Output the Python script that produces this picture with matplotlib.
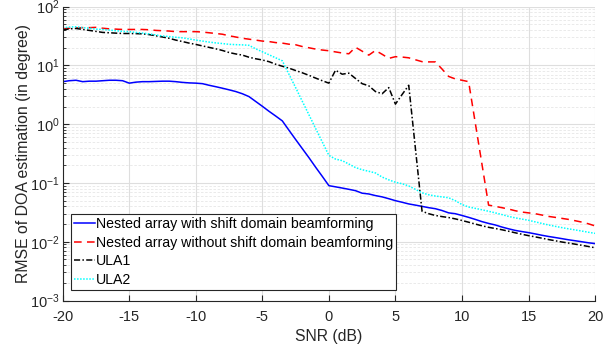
import numpy as np
import matplotlib.pyplot as plt
from matplotlib.ticker import LogLocator, NullFormatter, MultipleLocator

plt.rcParams['font.family'] = ['Liberation Sans', 'DejaVu Sans']
plt.rcParams['axes.unicode_minus'] = False

# SNR grid (dB)
snr = np.arange(-20, 20.5, 0.5)

# RMSE values (degree)
rmse_shift = [5.3, 5.5, 5.6, 5.3, 5.4, 5.4, 5.5, 5.6, 5.6, 5.5,
              5.0, 5.2, 5.3, 5.3, 5.35, 5.4, 5.4, 5.3, 5.15, 5.05,
              5.0, 4.9, 4.6, 4.35, 4.1, 3.85, 3.6, 3.3, 2.95, 2.44,
              2.02, 1.66, 1.38, 1.14, 0.79, 0.55, 0.385, 0.27, 0.186, 0.13,
              0.090, 0.086, 0.082, 0.078, 0.074, 0.067, 0.065, 0.061, 0.058, 0.054,
              0.050, 0.047, 0.044, 0.042, 0.040, 0.038, 0.0365, 0.034, 0.031, 0.030,
              0.028, 0.026, 0.024, 0.022, 0.0205, 0.0193, 0.0178, 0.0166, 0.0156, 0.0149,
              0.0143, 0.0136, 0.0129, 0.0123, 0.0118, 0.0113, 0.0108, 0.0104, 0.0100, 0.0096,
              0.0093]

rmse_noshift = [42, 43, 43.5, 44, 44, 44.5, 43, 42, 41.5, 41,
                41, 41, 41, 40.5, 39.5, 39, 38.5, 37.6, 37.6, 37.6,
                37.6, 37, 36, 35, 34, 32, 30.5, 29, 28, 27,
                26, 25.5, 24.5, 24, 23, 22.5, 21, 20, 19, 18.3,
                17.8, 17, 16.3, 15.8, 20.4, 17.5, 15.0, 18.0, 15.5, 13.2,
                14.1, 13.9, 13.5, 12.5, 11.6, 11.5, 11.5, 8.7, 6.5, 5.9,
                5.6, 5.3, 1.05, 0.21, 0.042, 0.040, 0.038, 0.036, 0.0337, 0.032,
                0.031, 0.030, 0.0285, 0.027, 0.026, 0.025, 0.024, 0.0228, 0.0216, 0.0202,
                0.0186]

rmse_ula1 = [40, 42, 42.6, 41, 39.5, 38, 36.5, 36, 35.5, 35,
             35, 34.8, 34.5, 33.5, 32, 30.5, 29, 27, 25.5, 24,
             22.8, 21.5, 20.3, 19.2, 18, 16.6, 15.7, 15, 13.8, 13,
             12.4, 11.6, 10.5, 9.7, 9.0, 8.2, 7.5, 6.8, 6.1, 5.5,
             5.0, 8.3, 7.1, 7.4, 6.0, 4.9, 4.5, 3.6, 3.3, 4.2,
             2.2, 3.2, 4.6, 0.39, 0.033, 0.030, 0.028, 0.0268, 0.0258, 0.0245,
             0.023, 0.0215, 0.020, 0.0187, 0.0176, 0.0168, 0.016, 0.0151, 0.0142, 0.0134,
             0.0127, 0.0121, 0.0115, 0.0109, 0.0104, 0.0099, 0.0095, 0.0091, 0.0087, 0.0083,
             0.0079]

rmse_ula2 = [43.8, 45, 45.6, 44, 43, 41.5, 41, 40, 39, 38,
             37.6, 36.5, 35.5, 34.5, 33, 31.7, 31, 30.2, 29.5, 28.3,
             27, 26, 25, 24.2, 23.6, 22.9, 22.6, 22.4, 22.0, 19.2,
             17.1, 15.2, 13.5, 12, 7.1, 4.2, 2.46, 1.45, 0.85, 0.50,
             0.295, 0.255, 0.24, 0.21, 0.183, 0.168, 0.158, 0.148, 0.126, 0.113,
             0.103, 0.097, 0.089, 0.078, 0.068, 0.063, 0.060, 0.058, 0.056, 0.050,
             0.043, 0.039, 0.037, 0.035, 0.033, 0.031, 0.029, 0.027, 0.0255, 0.0243,
             0.0232, 0.0218, 0.0205, 0.0193, 0.0183, 0.0174, 0.0166, 0.0159, 0.0152, 0.0145,
             0.0139]

labels = ['Nested array with shift domain beamforming',
          'Nested array without shift domain beamforming',
          'ULA1', 'ULA2']

fig = plt.figure(figsize=(6.16, 3.47), dpi=100)
ax = fig.add_axes([0.1018, 0.134, 0.8642, 0.8467])

ax.semilogy(snr, rmse_shift, '-', color='#0000ff', lw=1.1, label=labels[0])
ax.semilogy(snr, rmse_noshift, '--', color='#ff0000', lw=1.1, dashes=(5, 3.5), label=labels[1])
ax.semilogy(snr, rmse_ula1, '-.', color='k', lw=1.1, dashes=(4, 1.5, 1, 1.5), label=labels[2])
ax.semilogy(snr, rmse_ula2, ':', color='#00ffff', lw=1.1, dashes=(1, 1), label=labels[3])

ax.set_xlim(-20, 20)
ax.set_ylim(1e-3, 1e2)
ax.xaxis.set_major_locator(MultipleLocator(5))
ax.yaxis.set_major_locator(LogLocator(base=10, numticks=10))
ax.yaxis.set_minor_locator(LogLocator(base=10, subs=np.arange(2, 10), numticks=10))
ax.yaxis.set_minor_formatter(NullFormatter())

ax.grid(True, which='major', color='#dedede', lw=0.8)
ax.grid(True, which='minor', axis='y', color='#e6e6e6', lw=0.6, ls=(0, (3, 2)))
ax.set_axisbelow(True)

for s in ['top', 'right']:
    ax.spines[s].set_visible(False)
for s in ['left', 'bottom']:
    ax.spines[s].set_color('#262626')
    ax.spines[s].set_linewidth(0.8)

ax.tick_params(which='both', direction='in', colors='#262626', labelsize=10.5)
ax.tick_params(which='major', length=4)
ax.tick_params(which='minor', length=2)
ax.tick_params(axis='x', pad=6.5)
ax.tick_params(axis='y', pad=2.5)

ax.set_xlabel('SNR (dB)', fontsize=11.3, color='#262626', labelpad=4)
ax.set_ylabel('RMSE of DOA estimation (in degree)', fontsize=11.4, color='#262626', labelpad=-1)

leg = ax.legend(loc='lower left', bbox_to_anchor=(0.0156, 0.036), fontsize=10.2,
                handlelength=1.5, handletextpad=0.05, labelspacing=0.33,
                borderpad=0.2, borderaxespad=0, fancybox=False, framealpha=1)
leg.get_frame().set_edgecolor('#262626')
leg.get_frame().set_linewidth(0.8)

fig.savefig('out.png', dpi=100)
